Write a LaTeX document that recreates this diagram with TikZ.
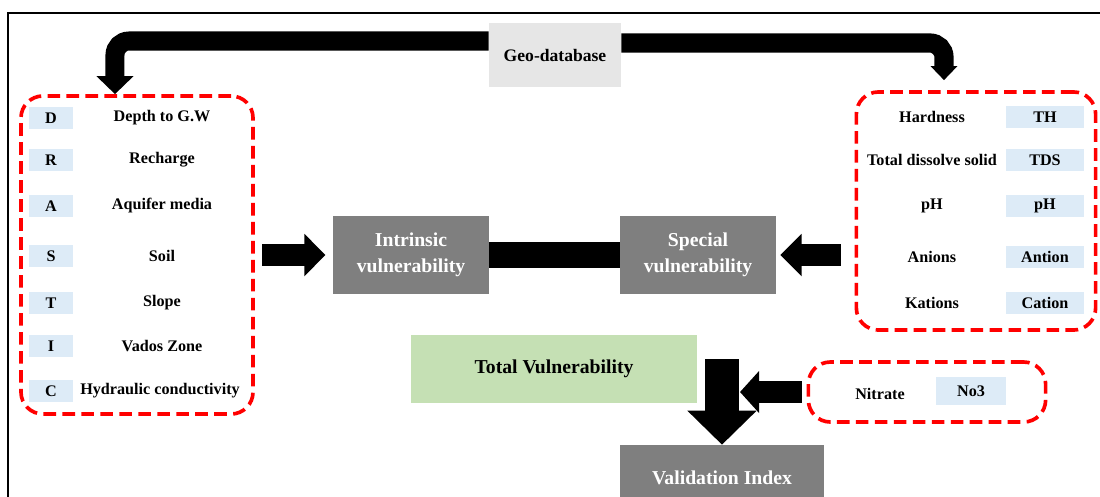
\documentclass[tikz,border=0pt]{standalone}
\usepackage{fontspec}
\setmainfont{Liberation Serif}
\usetikzlibrary{positioning, arrows.meta}
\definecolor{boxgray}{RGB}{127,127,127}
\definecolor{geogray}{RGB}{230,230,230}
\definecolor{tagblue}{RGB}{221,235,247}
\definecolor{totgreen}{RGB}{197,224,180}
\tikzset{
  group/.style={draw=red, line width=2.6pt, dash pattern=on 9pt off 4.5pt,
                rounded corners=0.55cm},
  tag/.style={fill=tagblue, minimum height=0.53cm, inner sep=0pt,
              font=\fontsize{11.5}{13}\selectfont\bfseries},
  item/.style={inner sep=0pt, font=\fontsize{11.5}{13}\selectfont\bfseries},
  vbox/.style={fill=boxgray, text=white, align=center, minimum width=3.9cm,
               minimum height=1.97cm, font=\fontsize{14}{18.5}\selectfont\bfseries},
}

\begin{document}
\begin{tikzpicture}[x=0.025cm, y=-0.025cm]
  \useasboundingbox (0,0) rectangle (1100,496);
  \clip (0,0) rectangle (1100,496);
  \draw[line width=1.3pt] (8,13) rectangle (1120,520);

  % --- Geo-database ---
  \node[fill=geogray, minimum width=3.3cm, minimum height=1.6cm,
        font=\fontsize{12.5}{14}\selectfont\bfseries] (geo) at (555,55) {Geo-database};

  % --- DRASTIC group ---
  \node[group, minimum width=5.8cm, minimum height=7.95cm] (drastic) at (137,255) {};
  \node[tag, minimum width=1.1cm] (tD) at (51,118) {D};
  \node[item] (lD) at (162,118) {Depth to G.W};
  \node[tag, minimum width=1.1cm] (tR) at (51,160) {R};
  \node[item] (lR) at (162,160) {Recharge};
  \node[tag, minimum width=1.1cm] (tA) at (51,206) {A};
  \node[item] (lA) at (162,206) {Aquifer media};
  \node[tag, minimum width=1.1cm] (tS) at (51,256) {S};
  \node[item] (lS) at (162,256) {Soil};
  \node[tag, minimum width=1.1cm] (tT) at (51,303) {T};
  \node[item] (lT) at (162,303) {Slope};
  \node[tag, minimum width=1.1cm] (tI) at (51,346) {I};
  \node[item] (lI) at (162,346) {Vados Zone};
  \node[tag, minimum width=1.1cm] (tC) at (51,391) {C};
  \node[item] (lC) at (160,391) {Hydraulic conductivity};

  % --- hydro-chemical group ---
  \node[group, minimum width=5.98cm, minimum height=5.95cm] (chem) at (976,211) {};
  \node[item] (lTH) at (932,117) {Hardness};
  \node[tag, minimum width=1.95cm] (tTH) at (1045,117) {TH};
  \node[item] (lTDS) at (932,160) {Total dissolve solid};
  \node[tag, minimum width=1.95cm] (tTDS) at (1045,160) {TDS};
  \node[item] (lpH) at (932,206) {pH};
  \node[tag, minimum width=1.95cm] (tpH) at (1045,206) {pH};
  \node[item] (lAn) at (932,257) {Anions};
  \node[tag, minimum width=1.95cm] (tAn) at (1045,257) {Antion};
  \node[item] (lKa) at (932,303) {Kations};
  \node[tag, minimum width=1.95cm] (tKa) at (1045,303) {Cation};

  % --- vulnerability boxes ---
  \node[vbox] (intr) at (411,255) {Intrinsic\\vulnerability};
  \node[vbox] (spec) at (698,255) {Special\\vulnerability};
  \node[fill=totgreen, minimum width=7.15cm, minimum height=1.7cm,
        font=\fontsize{14}{16}\selectfont\bfseries] (total) at (554,369) {Total Vulnerability};
  \node[fill=boxgray, text=white, minimum width=5.1cm, minimum height=1.65cm,
        font=\fontsize{14}{16}\selectfont\bfseries] (valid) at (722,478) {Validation Index};

  % --- nitrate group ---
  \node[group, minimum width=5.93cm, minimum height=1.5cm] (nitro) at (927,392) {};
  \node[item] (lNi) at (880,394) {Nitrate};
  \node[tag, minimum width=1.75cm, minimum height=0.68cm] (tNo) at (971,391) {No3};

  % --- block arrows ---
  \draw[line width=0.475cm, rounded corners=0.35cm,
        -{Triangle[width=0.9cm, length=0.45cm]}]
    ([yshift=0.35cm]geo.west) -| ([xshift=-0.55cm]drastic.north);
  \draw[line width=0.48cm, rounded corners=0.35cm,
        -{Triangle[width=0.65cm, length=0.35cm]}]
    ([yshift=0.3cm]geo.east) -| ([xshift=-0.8cm, yshift=0.25cm]chem.north);
  \draw[line width=0.55cm, -{Triangle[width=1.03cm, length=0.53cm]}]
    ([xshift=0.18cm]drastic.east) -- ([xshift=-0.18cm]intr.west);
  \draw[line width=0.67cm] (intr.east) -- (spec.west);
  \draw[line width=0.55cm, -{Triangle[width=1.03cm, length=0.53cm]}]
    ([xshift=-0.35cm]chem.west |- spec.east) -- ([xshift=0.1cm]spec.east);

  \coordinate (dTop) at (722,359);
  \coordinate (dJoin) at (740,392);
  \draw[line width=0.83cm, -{Triangle[width=1.68cm, length=0.85cm]}] (dTop) -- (valid.north);
  \draw[line width=0.53cm, -{Triangle[width=1.03cm, length=0.48cm]}]
    ([xshift=-0.12cm]nitro.west) -- (dJoin);
\end{tikzpicture}
\end{document}
